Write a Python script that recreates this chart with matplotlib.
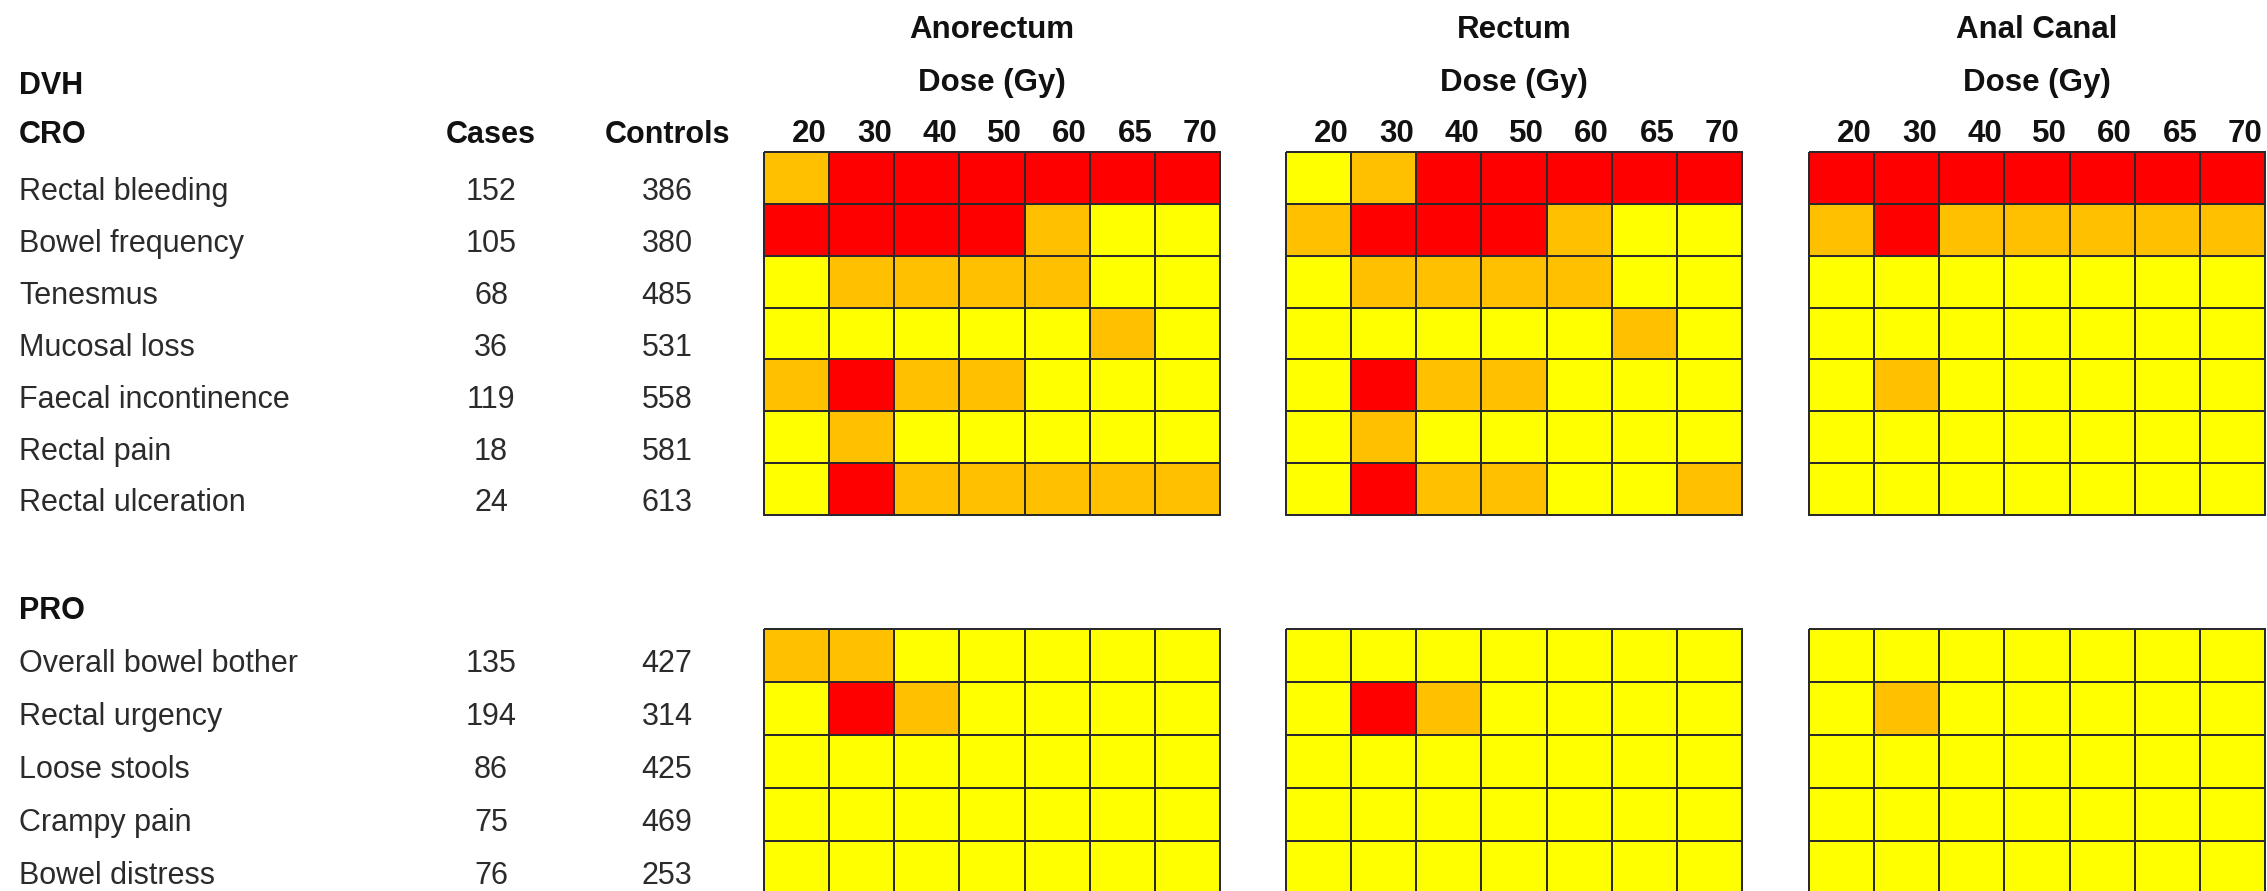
import numpy as np
import matplotlib
matplotlib.use("Agg")
import matplotlib.pyplot as plt
from matplotlib.colors import ListedColormap, BoundaryNorm
from matplotlib.transforms import blended_transform_factory

# ---- data -------------------------------------------------------------
doses = ["20", "30", "40", "50", "60", "65", "70"]
organs = ["Anorectum", "Rectum", "Anal Canal"]

cro_labels = ["Rectal bleeding", "Bowel frequency", "Tenesmus", "Mucosal loss",
              "Faecal incontinence", "Rectal pain", "Rectal ulceration"]
cro_cases = [152, 105, 68, 36, 119, 18, 24]
cro_controls = [386, 380, 485, 531, 558, 581, 613]

pro_labels = ["Overall bowel bother", "Rectal urgency", "Loose stools",
              "Crampy pain", "Bowel distress"]
pro_cases = [135, 194, 86, 75, 76]
pro_controls = [427, 314, 425, 469, 253]

# cell level per dose: 0 = yellow, 1 = orange, 2 = red
cro_anorectum = [[1, 2, 2, 2, 2, 2, 2],
                 [2, 2, 2, 2, 1, 0, 0],
                 [0, 1, 1, 1, 1, 0, 0],
                 [0, 0, 0, 0, 0, 1, 0],
                 [1, 2, 1, 1, 0, 0, 0],
                 [0, 1, 0, 0, 0, 0, 0],
                 [0, 2, 1, 1, 1, 1, 1]]
cro_rectum = [[0, 1, 2, 2, 2, 2, 2],
              [1, 2, 2, 2, 1, 0, 0],
              [0, 1, 1, 1, 1, 0, 0],
              [0, 0, 0, 0, 0, 1, 0],
              [0, 2, 1, 1, 0, 0, 0],
              [0, 1, 0, 0, 0, 0, 0],
              [0, 2, 1, 1, 0, 0, 1]]
cro_anal_canal = [[2, 2, 2, 2, 2, 2, 2],
                  [1, 2, 1, 1, 1, 1, 1],
                  [0, 0, 0, 0, 0, 0, 0],
                  [0, 0, 0, 0, 0, 0, 0],
                  [0, 1, 0, 0, 0, 0, 0],
                  [0, 0, 0, 0, 0, 0, 0],
                  [0, 0, 0, 0, 0, 0, 0]]

pro_anorectum = [[1, 1, 0, 0, 0, 0, 0],
                 [0, 2, 1, 0, 0, 0, 0],
                 [0, 0, 0, 0, 0, 0, 0],
                 [0, 0, 0, 0, 0, 0, 0],
                 [0, 0, 0, 0, 0, 0, 0]]
pro_rectum = [[0, 0, 0, 0, 0, 0, 0],
              [0, 2, 1, 0, 0, 0, 0],
              [0, 0, 0, 0, 0, 0, 0],
              [0, 0, 0, 0, 0, 0, 0],
              [0, 0, 0, 0, 0, 0, 0]]
pro_anal_canal = [[0, 0, 0, 0, 0, 0, 0],
                  [0, 1, 0, 0, 0, 0, 0],
                  [0, 0, 0, 0, 0, 0, 0],
                  [0, 0, 0, 0, 0, 0, 0],
                  [0, 0, 0, 0, 0, 0, 0]]

cro_grids = [cro_anorectum, cro_rectum, cro_anal_canal]
pro_grids = [pro_anorectum, pro_rectum, pro_anal_canal]

# ---- style / layout ---------------------------------------------------
W, H = 2267, 891
DPI = 100
cmap = ListedColormap(["#FFFF00", "#FFC000", "#FF0000"])
norm = BoundaryNorm([-0.5, 0.5, 1.5, 2.5], cmap.N)
edge = "#2a2a2a"
ink = "#111111"
label_ink = "#2b2b2b"

font = "Liberation Sans"
head_size = 22.5
table_size = 22

col_x = [(764, 1220), (1286, 1742), (1809, 2265)]
cro_y = (152, 515)
pro_y = (629, 894)


def fig_rect(x0, x1, y0, y1):
    return [x0 / W, 1 - y1 / H, (x1 - x0) / W, (y1 - y0) / H]


def draw_grid(ax, grid):
    values = np.array(grid)
    mesh = ax.pcolormesh(values, cmap=cmap, norm=norm, edgecolors=edge,
                         linewidth=1.2)
    mesh.set_clip_on(False)
    ax.set_xlim(0, values.shape[1])
    ax.set_ylim(values.shape[0], 0)
    ax.set_axis_off()


fig = plt.figure(figsize=(W / DPI, H / DPI), dpi=DPI)
head_kw = dict(family=font, fontsize=head_size, fontweight="bold", color=ink,
               va="baseline")

cro_axes, pro_axes = [], []
for (x0, x1), organ, cg, pg in zip(col_x, organs, cro_grids, pro_grids):
    ax = fig.add_axes(fig_rect(x0, x1, *cro_y))
    draw_grid(ax, cg)
    row_h = (cro_y[1] - cro_y[0]) / len(cg)
    ax.text(3.5, -(cro_y[0] - 38) / row_h, organ, ha="center", **head_kw)
    ax.text(3.5, -(cro_y[0] - 91) / row_h, "Dose (Gy)", ha="center",
            **head_kw)
    for j, d in enumerate(doses):
        ax.text(j + 0.96, -10 / row_h, d, ha="right", **head_kw)
    cro_axes.append(ax)

    ax2 = fig.add_axes(fig_rect(x0, x1, *pro_y))
    draw_grid(ax2, pg)
    pro_axes.append(ax2)

# ---- left-hand table --------------------------------------------------
x_label, x_cases, x_controls = 19 / W, 491 / W, 667 / W
table_kw = dict(family=font, fontsize=table_size, va="baseline")


def draw_table(ax, header, labels, cases, controls, base_off, head_off,
               show_cols):
    tr = blended_transform_factory(fig.transFigure, ax.transData)
    fig.text(x_label, head_off, header, transform=tr, fontweight="bold",
             ha="left", color=ink, **table_kw)
    if show_cols:
        fig.text(x_cases, head_off, "Cases", transform=tr,
                 fontweight="bold", ha="center", color=ink, **table_kw)
        fig.text(x_controls, head_off, "Controls", transform=tr,
                 fontweight="bold", ha="center", color=ink, **table_kw)
    for i, (lab, ca, co) in enumerate(zip(labels, cases, controls)):
        y = i + base_off
        fig.text(x_label, y, lab, transform=tr, ha="left", color=label_ink,
                 **table_kw)
        fig.text(x_cases, y, str(ca), transform=tr, ha="center",
                 color=label_ink, **table_kw)
        fig.text(x_controls, y, str(co), transform=tr, ha="center",
                 color=label_ink, **table_kw)


cro_row_h = (cro_y[1] - cro_y[0]) / len(cro_labels)
pro_row_h = (pro_y[1] - pro_y[0]) / len(pro_labels)

draw_table(cro_axes[0], "CRO", cro_labels, cro_cases, cro_controls,
           0.93, -9 / cro_row_h, True)
tr0 = blended_transform_factory(fig.transFigure, cro_axes[0].transData)
fig.text(x_label, -(cro_y[0] - 94) / cro_row_h, "DVH", transform=tr0,
         fontweight="bold", ha="left", color=ink, **table_kw)
draw_table(pro_axes[0], "PRO", pro_labels, pro_cases, pro_controls,
           0.81, -10 / pro_row_h, False)

fig.savefig("out.png", dpi=DPI, facecolor="white")
plt.close(fig)
